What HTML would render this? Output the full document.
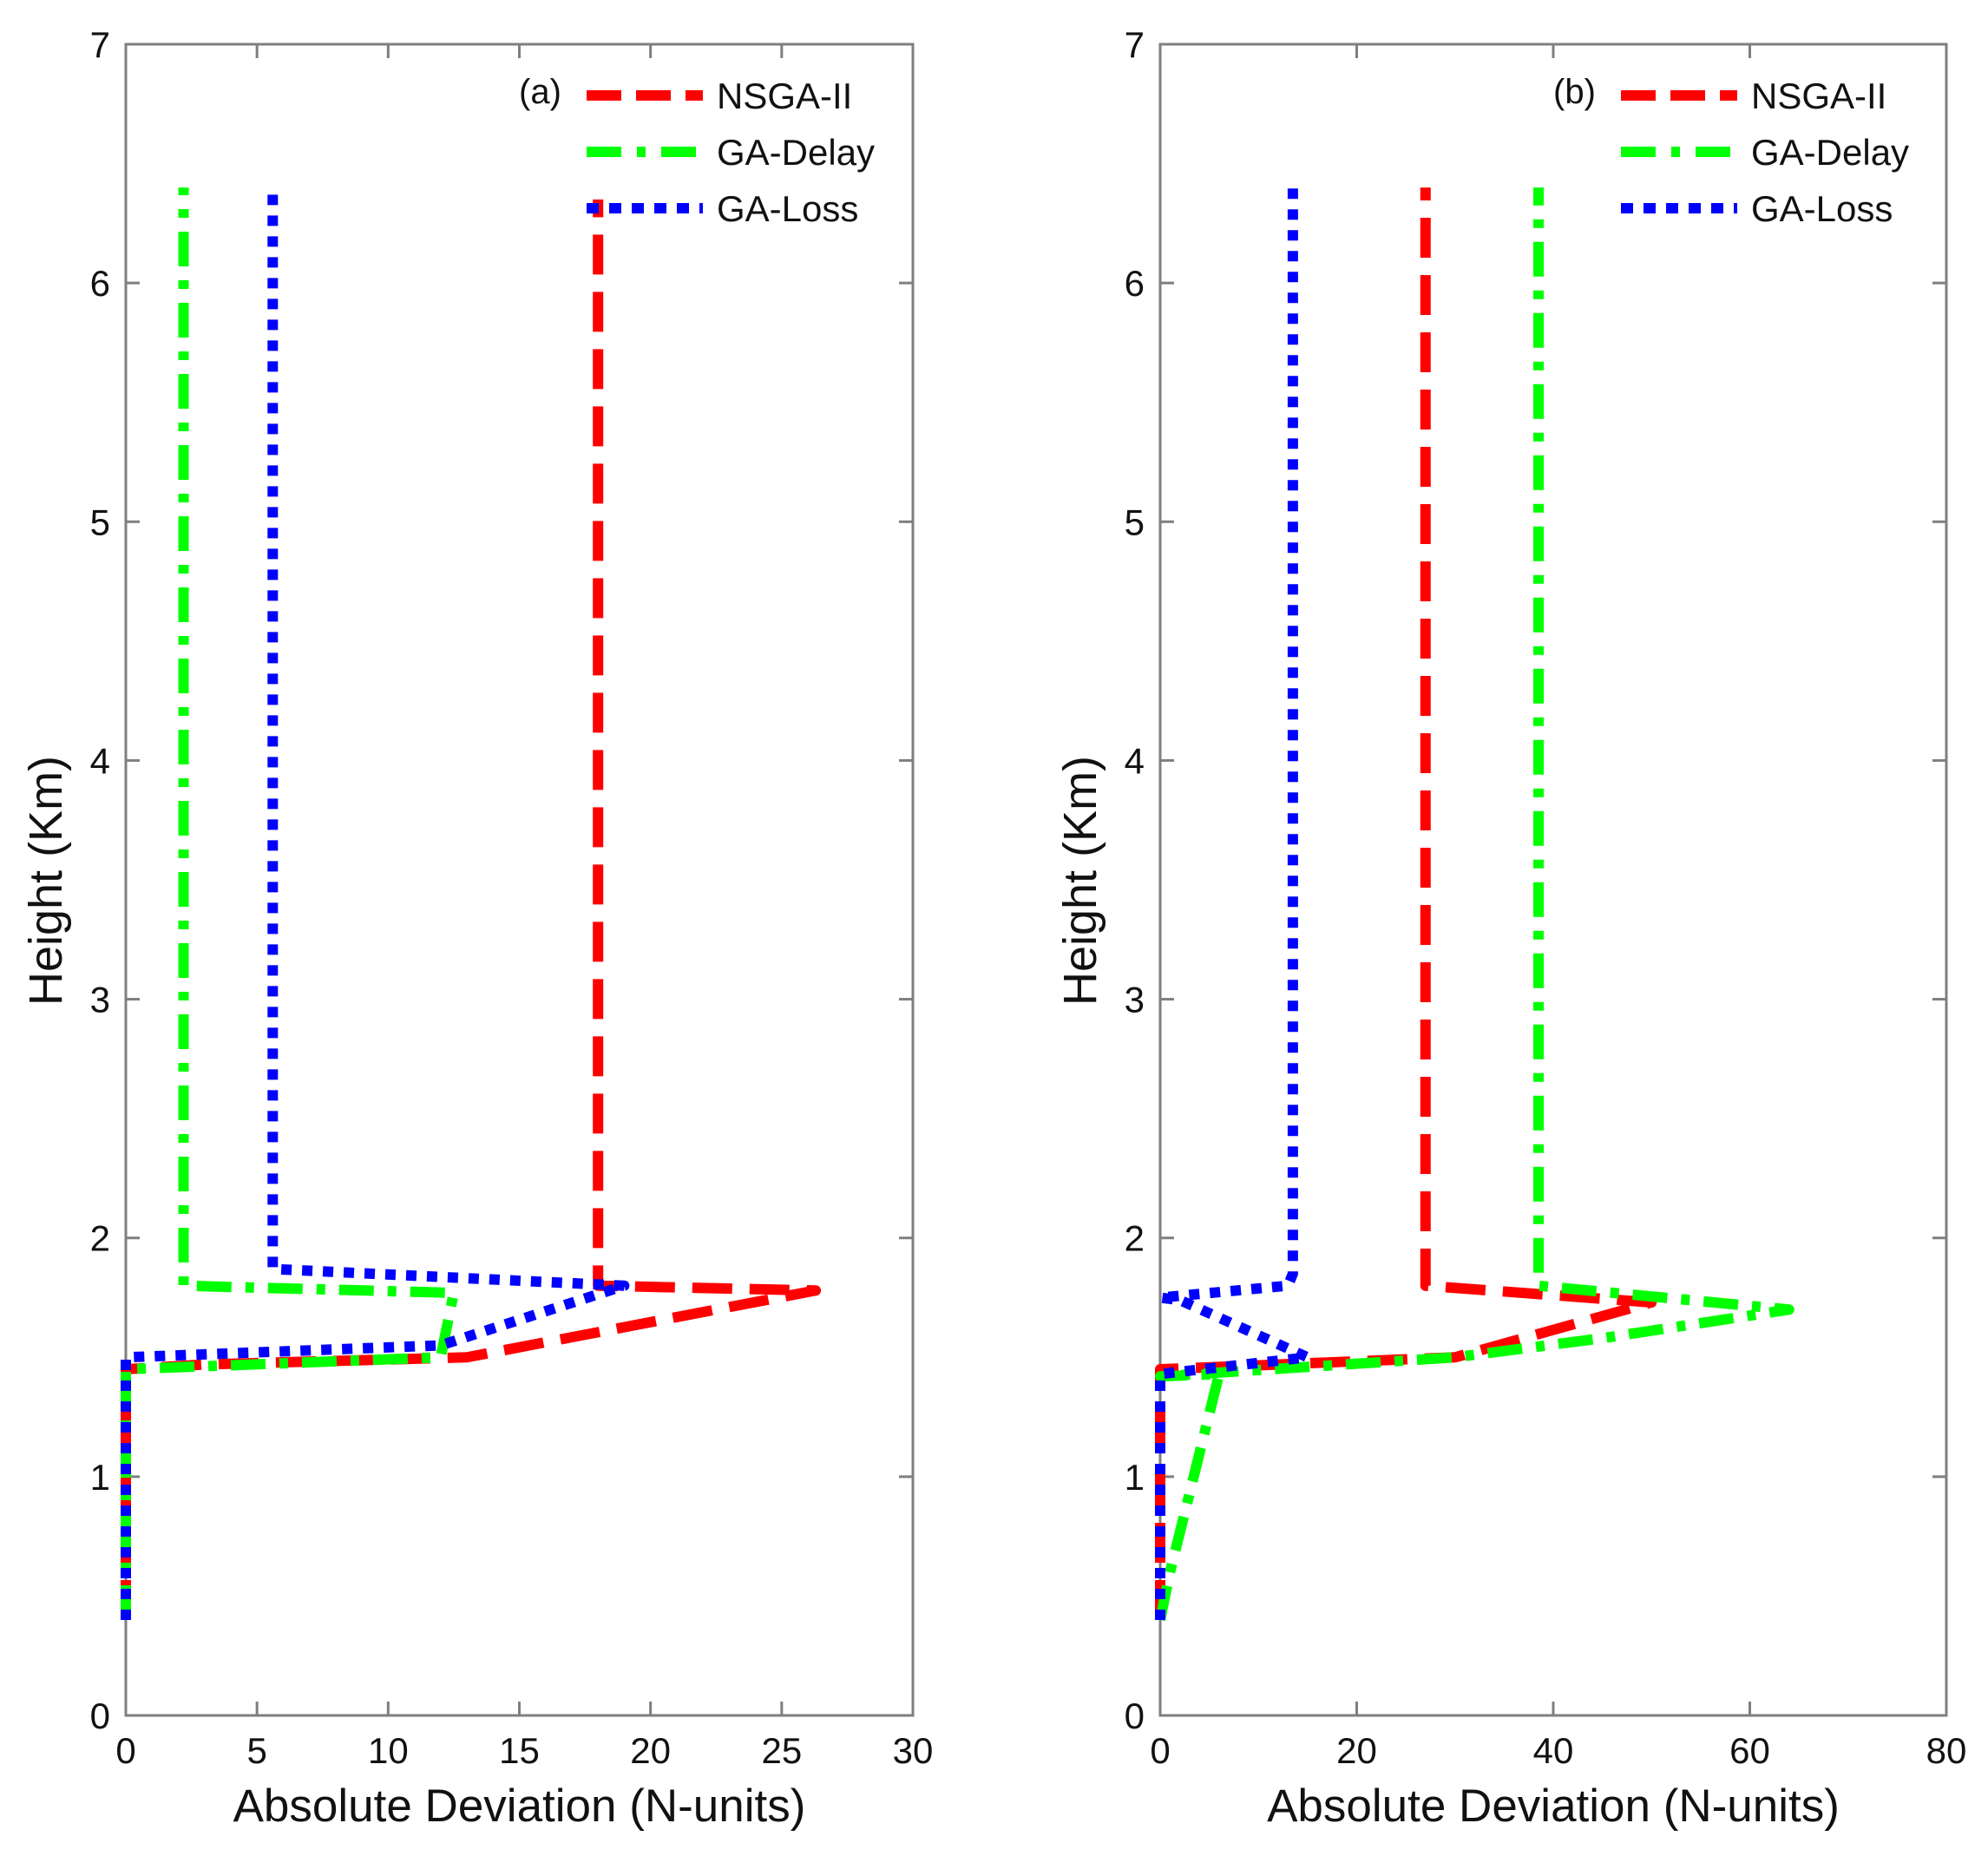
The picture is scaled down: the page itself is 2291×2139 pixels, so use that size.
<!DOCTYPE html>
<html><head><meta charset="utf-8"><style>
html,body{margin:0;padding:0;background:#fff}
svg{display:block}
text{font-family:"Liberation Sans",Arial,sans-serif;fill:#111}
</style></head><body>
<svg id="chart" width="2291" height="2139" viewBox="0 0 2291 2139" xmlns="http://www.w3.org/2000/svg"></svg>
<script>
// Panel (a) data
const aXTicks = [0,5,10,15,20,25,30];
const yTicks = [0,1,2,3,4,5,6,7];
const aNsgaX = [0,0,3,13,26.3,18,18];
const aNsgaY = [0.4,1.45,1.47,1.5,1.78,1.8,6.35];
const aDelayX = [0,0,12,12.5,2.2,2.2];
const aDelayY = [0.4,1.45,1.5,1.77,1.8,6.4];
const aLossX = [0,0,12,19,5.6,5.6];
const aLossY = [0.4,1.5,1.55,1.8,1.87,6.4];
// Panel (b) data
const bXTicks = [0,20,40,60,80];
const bNsgaX = [0,0,30,50,27,27];
const bNsgaY = [0.4,1.45,1.5,1.73,1.8,6.4];
const bDelayX = [0,1,6,0,30,45,64,38.5,38.5];
const bDelayY = [0.4,0.6,1.43,1.42,1.5,1.58,1.7,1.8,6.4];
const bLossX = [0,0,15,2,0,13,13.5,13.5];
const bLossY = [0.4,1.43,1.5,1.74,1.75,1.8,1.85,6.4];

const NS='http://www.w3.org/2000/svg';
const svg=document.getElementById('chart');
function mk(tag,attrs,parent){const e=document.createElementNS(NS,tag);for(const k in attrs)e.setAttribute(k,attrs[k]);(parent||svg).appendChild(e);return e;}

const styles={
 nsga:{stroke:'#ff0000',dash:'46 20'},
 delay:{stroke:'#00ff00',dash:'40 16 10 16'},
 loss:{stroke:'#0000ff',dash:'12 12'}
};

function panel(opt){
 const g=mk('g',{});
 
 
 const L=opt.x0,R=opt.x1,T=51,B=1977;
 const xs=v=>L+(v-opt.xmin)/(opt.xmax-opt.xmin)*(R-L);
 const ys=v=>B-(v/7)*(B-T);
 const fr=mk('rect',{x:L,y:T,width:R-L,height:B-T,fill:'none',stroke:'#7f7f7f','stroke-width':3},g);
 
 
 opt.xticks.forEach(t=>{
  const x=xs(t);
  mk('line',{x1:x,y1:B,x2:x,y2:B-16,stroke:'#7f7f7f','stroke-width':3},g);
  mk('line',{x1:x,y1:T,x2:x,y2:T+16,stroke:'#7f7f7f','stroke-width':3},g);
  const tx=mk('text',{x:x,y:B+55,'font-size':42,'text-anchor':'middle'},g);
  tx.textContent=t;
  
  
 });
 yTicks.forEach(t=>{
  const y=ys(t);
  mk('line',{x1:L,y1:y,x2:L+16,y2:y,stroke:'#7f7f7f','stroke-width':3},g);
  mk('line',{x1:R,y1:y,x2:R-16,y2:y,stroke:'#7f7f7f','stroke-width':3},g);
  const tx=mk('text',{x:L-18,y:y+15,'font-size':42,'text-anchor':'end'},g);
  tx.textContent=t;
  
  
 });
 const xl=mk('text',{x:(L+R)/2,y:2099,'font-size':53,'text-anchor':'middle'},g);
 xl.textContent='Absolute Deviation (N-units)';
 
 
 const yx=L-74, yy=1015;
 const yl=mk('text',{x:yx,y:yy,'font-size':54,'text-anchor':'middle',transform:`rotate(-90 ${yx} ${yy})`},g);
 yl.textContent='Height (Km)';
 
 
 opt.series.forEach(s=>{
  const pts=s.x.map((v,i)=>xs(v)+','+ys(s.y[i])).join(' ');
  const st=styles[s.key];
  const pl=mk('polyline',{points:pts,fill:'none',stroke:st.stroke,'stroke-width':12,'stroke-dasharray':st.dash,'stroke-linejoin':'round'},g);
  
  
 });
 const lx=opt.legX;
 const lab=mk('text',{x:lx-78,y:119,'font-size':40},g);
 lab.textContent=opt.label;
 
 
 const rows=[['nsga','NSGA-II',110],['delay','GA-Delay',175],['loss','GA-Loss',240]];
 rows.forEach(r=>{
  const st=styles[r[0]];
  const ln=mk('line',{x1:lx,y1:r[2],x2:lx+134,y2:r[2],stroke:st.stroke,'stroke-width':12,'stroke-dasharray':r[0]==='loss'?'14 12':(r[0]==='delay'?'40 18 10 18':'40 17')},g);
  
  
  const t=mk('text',{x:lx+150,y:r[2]+15,'font-size':42},g);
  t.textContent=r[1];
  
  
 });
}

panel({name:'panel-a',label:'(a)',x0:145,x1:1052,xmin:0,xmax:30,xticks:aXTicks,legX:676,
 series:[{key:'nsga',name:'nsga-ii-line-a',x:aNsgaX,y:aNsgaY},{key:'delay',name:'ga-delay-line-a',x:aDelayX,y:aDelayY},{key:'loss',name:'ga-loss-line-a',x:aLossX,y:aLossY}]});
panel({name:'panel-b',label:'(b)',x0:1337,x1:2243,xmin:0,xmax:80,xticks:bXTicks,legX:1868,
 series:[{key:'nsga',name:'nsga-ii-line-b',x:bNsgaX,y:bNsgaY},{key:'delay',name:'ga-delay-line-b',x:bDelayX,y:bDelayY},{key:'loss',name:'ga-loss-line-b',x:bLossX,y:bLossY}]});
</script>
</body></html>
